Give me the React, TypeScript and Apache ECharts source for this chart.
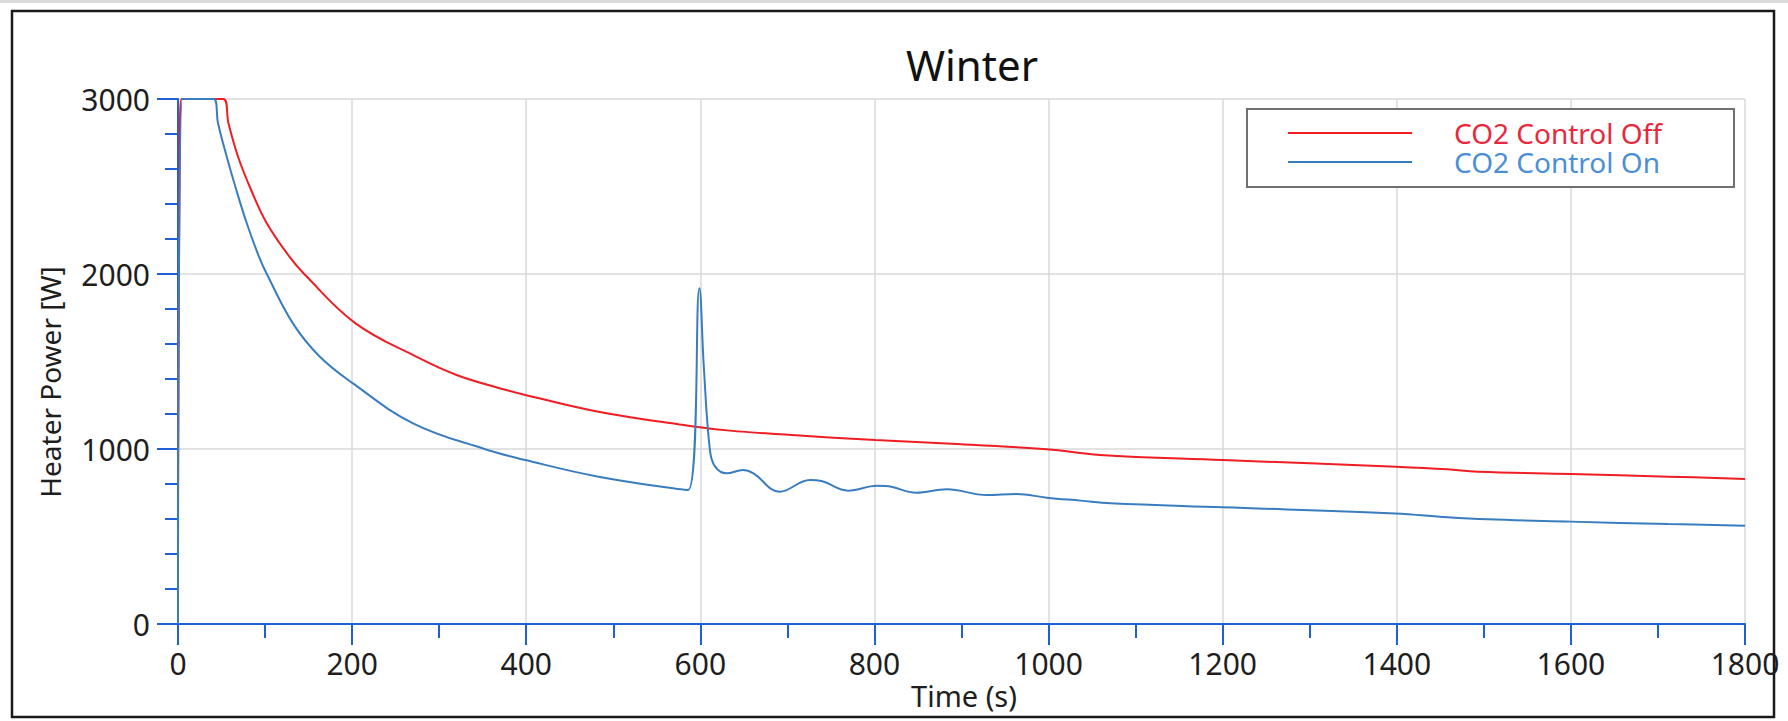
import React, { useEffect, useRef } from "react";
import * as echarts from "echarts";

// ---- data ----
const offTime = [0, 2, 4, 52, 58, 69, 84, 102, 128, 145, 204, 274, 320, 377, 399, 483, 586, 634, 705, 801, 883, 998, 1059, 1200, 1300, 1399, 1458, 1493, 1600, 1712, 1800];
const offPower = [750, 2700, 3000, 3000, 2861, 2670, 2480, 2290, 2099, 2000, 1718, 1527, 1423, 1337, 1309, 1213, 1133, 1105, 1080, 1051, 1032, 998, 966, 937, 918, 899, 884, 870, 857, 842, 829];

const onTime = [0, 5, 41, 46, 56, 67, 79, 93, 102, 132, 163, 201, 270, 352, 399, 483, 586, 599, 604, 611, 617, 630, 649, 661, 691, 726, 739, 770, 803, 813, 848, 883, 929, 963, 998, 1037, 1071, 1200, 1398, 1458, 1504, 1600, 1712, 1800];
const onPower = [0, 3000, 3000, 2861, 2670, 2480, 2290, 2099, 2000, 1718, 1527, 1375, 1147, 1000, 937, 842, 766, 1918, 1470, 994, 899, 861, 880, 861, 756, 823, 817, 762, 790, 789, 750, 770, 737, 743, 722, 705, 690, 667, 632, 610, 598, 585, 571, 562];

const seriesNames = ["CO2 Control Off", "CO2 Control On"];
const xTicks = { min: 0, max: 1800, interval: 200 };
const yTicks = { min: 0, max: 3000, interval: 1000 };

const FONT = '"Noto Sans", "Open Sans", sans-serif';
const AXIS = "#1f5fd8";
const RED = "#f01e23";
const BLUE = "#3a7dbf";
const RED_TXT = "#e8283c";
const BLUE_TXT = "#4b8fd6";
const GRID = "#d9d9d9";
const LABEL = "#1e1e1e";

const zip = (a: number[], b: number[]) => a.map((v, i) => [v, b[i]]);

export default function App() {
  const ref = useRef<HTMLDivElement>(null);
  useEffect(() => {
    if (!ref.current) return;
    const chart = echarts.init(ref.current, undefined, { renderer: "svg" });
    const axisCommon = {
      type: "value" as const,
      axisLine: { show: true, onZero: false, lineStyle: { color: AXIS, width: 2 } },
      axisTick: { show: true, length: 21, lineStyle: { color: AXIS, width: 2 } },
      axisLabel: { fontSize: 30, fontFamily: FONT, color: LABEL, formatter: (v: number) => String(v) },
      splitLine: { show: true, lineStyle: { color: GRID, width: 1.5 } },
    };
    chart.setOption({
      animation: false,
      backgroundColor: "#ffffff",
      grid: { left: 178, right: 43, top: 99, bottom: 97, containLabel: false },
      xAxis: {
        ...axisCommon,
        ...xTicks,
        minorTick: { show: true, splitNumber: 2, length: 14, lineStyle: { color: AXIS, width: 2 } },
        axisLabel: { ...axisCommon.axisLabel, margin: 24 },
      },
      yAxis: {
        ...axisCommon,
        ...yTicks,
        minorTick: { show: true, splitNumber: 5, length: 13, lineStyle: { color: AXIS, width: 2 } },
        axisLabel: { ...axisCommon.axisLabel, margin: 28 },
      },
      legend: {
        orient: "vertical",
        left: 1247,
        top: 109,
        padding: [9.5, 50, 10.5, 40],
        itemWidth: 124,
        itemHeight: 14,
        itemGap: 0,
        borderColor: "#707070",
        borderWidth: 2,
        backgroundColor: "#ffffff",
        itemStyle: { opacity: 0 },
        textStyle: { fontSize: 28, fontFamily: FONT, width: 230, lineHeight: 29, padding: [0, 0, 0, 37] },
        data: [
          { name: seriesNames[0], textStyle: { color: RED_TXT } },
          { name: seriesNames[1], textStyle: { color: BLUE_TXT } },
        ],
      },
      graphic: [
        { type: "rect", shape: { x: 0, y: 0, width: 1788, height: 3 }, style: { fill: "#dcdcdc" }, silent: true },
        { type: "rect", shape: { x: 12, y: 11, width: 1762, height: 706 }, style: { fill: "none", stroke: "#1a1a1a", lineWidth: 2.5 }, silent: true },
        { type: "text", x: 972, y: 64, style: { text: "Winter", font: `42px ${FONT}`, fill: "#111111", align: "center", verticalAlign: "middle" } },
        { type: "text", x: 49.5, y: 382, rotation: Math.PI / 2, style: { text: "Heater Power [W]", font: `28px ${FONT}`, fill: LABEL, align: "center", verticalAlign: "middle" } },
        { type: "text", x: 964, y: 695, style: { text: "Time (s)", font: `29px ${FONT}`, fill: LABEL, align: "center", verticalAlign: "middle" } },
      ],
      series: [
        { name: seriesNames[0], type: "line", data: zip(offTime, offPower), symbol: "none", smooth: 0.4, clip: true, lineStyle: { color: RED, width: 2 }, itemStyle: { color: RED }, z: 3 },
        { name: seriesNames[1], type: "line", data: zip(onTime, onPower), symbol: "none", smooth: 0.4, clip: true, lineStyle: { color: BLUE, width: 2 }, itemStyle: { color: BLUE }, z: 4 },
      ],
    });
    return () => chart.dispose();
  }, []);
  return <div ref={ref} style={{ position: "fixed", left: 0, top: 0, width: 1788, height: 721, background: "#fff" }} />;
}
